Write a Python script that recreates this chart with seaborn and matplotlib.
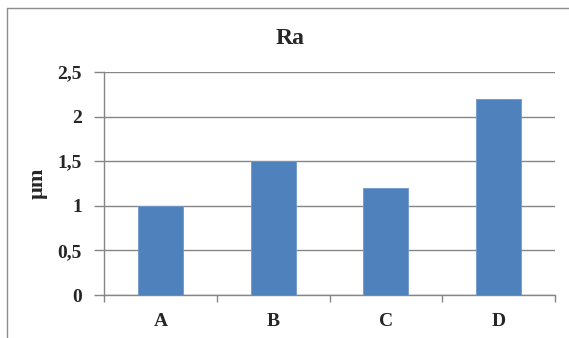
import matplotlib
matplotlib.use("Agg")
import matplotlib.pyplot as plt
import seaborn as sns
import pandas as pd
from matplotlib.lines import Line2D

categories = ["A", "B", "C", "D"]
values = [1.0, 1.5, 1.2, 2.2]
y_ticks = [0, 0.5, 1, 1.5, 2, 2.5]
y_tick_labels = ["0", "0,5", "1", "1,5", "2", "2,5"]

sns.set_theme(style="white")
plt.rcParams["font.family"] = ["Liberation Serif", "DejaVu Serif"]

W, H = 569, 338
fig = plt.figure(figsize=(W / 100, H / 100), dpi=100)
ax = fig.add_axes([104 / W, (H - 295) / H, (555 - 104) / W, (295 - 72) / H])

df = pd.DataFrame({"cat": categories, "val": values})
sns.barplot(data=df, x="cat", y="val", color="#4F81BD", saturation=1,
            width=0.4, edgecolor="#6E98CB", linewidth=0.6, ax=ax, zorder=3)

grid_c = "#868686"
ax.set_ylim(0, 2.5)
ax.set_xlim(-0.5, len(categories) - 0.5)
ax.set_yticks(y_ticks)
ax.set_yticklabels(y_tick_labels, fontsize=14, fontweight="bold")
ax.yaxis.grid(True, color=grid_c, linewidth=1.0, zorder=0)
ax.set_axisbelow(True)

# category labels centred, tick marks at category boundaries
ax.set_xticks(range(len(categories)))
ax.set_xticklabels(categories, fontsize=14, fontweight="bold")
ax.tick_params(axis="x", length=0, pad=13)
ax.set_xticks([i - 0.5 for i in range(len(categories) + 1)], minor=True)
ax.tick_params(axis="x", which="minor", length=5, color=grid_c, width=1.0,
               direction="out", bottom=True)
ax.tick_params(axis="y", length=7, color=grid_c, width=1.0, left=True, pad=9)

for s in ["top", "right"]:
    ax.spines[s].set_visible(False)
for s in ["left", "bottom"]:
    ax.spines[s].set_color(grid_c)
    ax.spines[s].set_linewidth(1.0)

ax.set_xlabel("")
ax.set_ylabel("µm", fontsize=16, fontweight="bold", labelpad=7)

# title centred on the whole chart area
fig.text(290 / W, (H - 44) / H, "Ra", fontsize=17, fontweight="bold",
         ha="center", va="baseline")

# chart-area frame
border = "#8C8C8C"
fig.add_artist(Line2D([6.5 / W, 6.5 / W], [0, (H - 8) / H], color=border,
                      linewidth=1.0, transform=fig.transFigure))
fig.add_artist(Line2D([6.5 / W, 1], [(H - 8) / H, (H - 8) / H], color=border,
                      linewidth=1.0, transform=fig.transFigure))

fig.savefig("out.png", dpi=100)
